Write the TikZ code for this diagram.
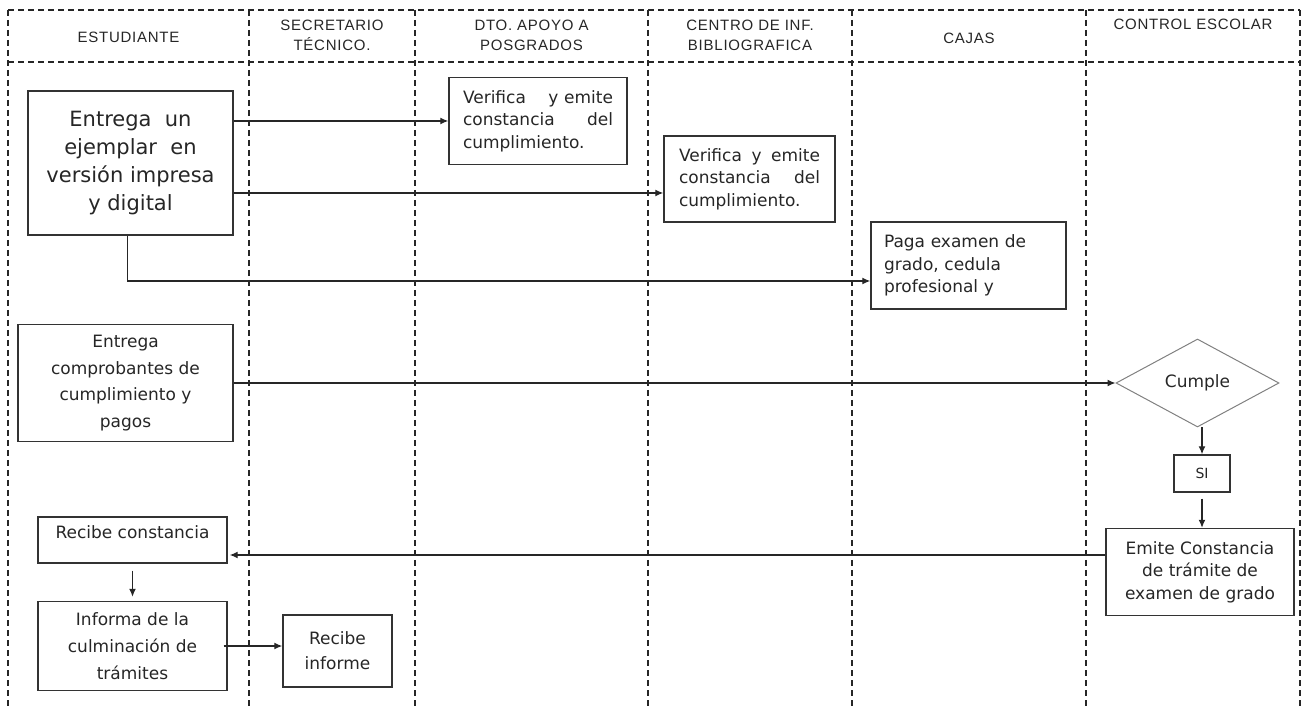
\documentclass[tikz,border=0pt]{standalone}
\usepackage{fontspec}
\setmainfont{DejaVu Sans}
\newfontfamily\headfont[LetterSpace=5]{Liberation Sans}
\usetikzlibrary{arrows.meta,shapes.geometric}

% righe giustificate nei riquadri
\newcommand{\giusta}[2]{\leavevmode\hbox to #1{#2}}

\tikzset{
  corsia/.style={line width=1.2pt,black!85,dash pattern=on 6pt off 4pt},
  testata/.style={font=\headfont\fontsize{15}{20}\selectfont,align=center,text=black!85},
  passo/.style={draw=black!80,line width=1.4pt,inner sep=0pt,align=center,
    text=black!85,font=\fontsize{17}{22.5}\selectfont},
  passogiusto/.style={passo,align=left,inner xsep=14pt,inner ysep=0pt},
  freccia/.style={->,line width=1.3pt,black!85},
}

\begin{document}
\begin{tikzpicture}[x=1pt,y=-1pt,>={Latex[length=8pt,width=7pt]}]
    \useasboundingbox (0,0) rectangle (1302,708);

    % Corsie
    \draw[corsia] (8,10) -- (1300,10);
    \draw[corsia] (8,62) -- (1300,62);
    \foreach \x in {8,249,415,648,852,1086,1300}
        \draw[corsia] (\x,10) -- (\x,708);

    % Intestazioni
    \node[testata] (hEst) at (128.5,37) {ESTUDIANTE};
    \node[testata] (hSec) at (332,35) {SECRETARIO\\TÉCNICO.};
    \node[testata] (hDto) at (531.5,35) {DTO. APOYO A\\POSGRADOS};
    \node[testata] (hCen) at (750,35) {CENTRO DE INF.\\BIBLIOGRAFICA};
    \node[testata] (hCaj) at (969,38) {CAJAS};
    \node[testata] (hCon) at (1193,24) {CONTROL ESCOLAR};

    % Passi
    \node[passo,minimum width=205pt,minimum height=144pt,
          font=\fontsize{21}{28.3}\selectfont] (entrega) at (130.5,163)
        {Entrega\ \ un\\ejemplar\ \ en\\versión impresa\\y digital};
    \node[passogiusto,text width=150pt,minimum height=87pt] (verifA) at (538,121)
        {\giusta{150pt}{Verifica\hfill y\ emite}\\\giusta{150pt}{constancia\hfill del}\\cumplimiento.};
    \node[passogiusto,text width=141pt,inner xsep=15pt,minimum height=86pt] (verifB) at (749.5,179)
        {\giusta{141pt}{Verifica\hfill y\hfill emite}\\\giusta{141pt}{constancia\hfill del}\\cumplimiento.};
    \node[passogiusto,text width=169pt,inner xsep=13pt,minimum height=87pt] (paga) at (968.5,265.5)
        {Paga examen de\\grado, cedula\\profesional y};
    \node[passo,minimum width=215pt,minimum height=117pt,
          font=\fontsize{17}{26.7}\selectfont] (comprob) at (125.5,383)
        {Entrega\\comprobantes de\\cumplimiento y\\pagos};
    \node[diamond,draw=black!50,line width=1pt,inner sep=0pt,aspect=1.85,
          minimum width=163pt,minimum height=88pt,text=black!85,
          font=\fontsize{17}{22.5}\selectfont] (cumple) at (1197.5,383) {Cumple};
    \node[passo,minimum width=56pt,minimum height=37pt,
          font=\fontsize{14}{20}\selectfont] (si) at (1202,473.5) {SI};
    \node[passo,minimum width=188pt,minimum height=87pt] (emite) at (1200,572)
        {Emite Constancia\\de trámite de\\examen de grado};
    \node[passo,minimum width=189pt,minimum height=46pt,text depth=15pt] (recibeC) at (132.5,540)
        {Recibe constancia};
    \node[passo,minimum width=189pt,minimum height=89pt,
          font=\fontsize{17}{27}\selectfont] (informa) at (132.5,646)
        {Informa de la\\culminación de\\trámites};
    \node[passo,minimum width=109pt,minimum height=72pt,
          font=\fontsize{17}{25}\selectfont] (recibeI) at (337.5,651)
        {Recibe\\informe};

    % Frecce
    \draw[freccia] (verifA.west -| entrega.east) -- (verifA.west);
    \coordinate (bV) at ([yshift=-14pt]verifB.west);
    \draw[freccia] (bV -| entrega.east) -- (bV);
    \draw[freccia] ([xshift=-3pt]entrega.south) |- ([yshift=-15.5pt]paga.west);
    \draw[freccia] (comprob.east) -- (comprob.east -| cumple.west);
    \draw[freccia] (si.north |- cumple.south) -- (si.north);
    \draw[freccia,shorten <=6pt] (si.south) -- (si.south |- emite.north);
    \coordinate (eC) at ([yshift=17pt]emite.west);
    \draw[freccia,shorten >=2pt] (eC) -- (eC -| recibeC.east);
    \draw[freccia,shorten <=7pt,shorten >=4pt] (recibeC.south) -- (informa.north);
    \draw[freccia] ([xshift=-4pt]informa.east) -- (informa.east -| recibeI.west);
\end{tikzpicture}
\end{document}
